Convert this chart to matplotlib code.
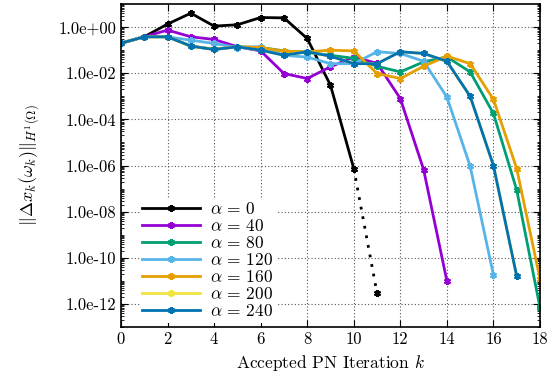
import numpy as np
import matplotlib.pyplot as plt
from matplotlib.ticker import FixedLocator, LogLocator, NullFormatter

plt.rcParams['mathtext.fontset'] = 'cm'
plt.rcParams['font.family'] = ['cmr10', 'DejaVu Serif']
plt.rcParams['axes.unicode_minus'] = False

# norm of the PN update per accepted iteration, one list per alpha
alphas = [0, 40, 80, 120, 160, 200, 240]
colors = ['black', '#9400d3', '#009e73', '#56b4e9', '#e69f00', '#f0e442', '#0072b2']

res_a0 = [0.2, 0.38, 1.35, 4.0, 1.1, 1.26, 2.6, 2.5, 0.32, 3e-3, 7.4e-7]
res_a0_tail = [7.4e-7, 2.9e-12]
res_a40 = [0.2, 0.38, 0.74, 0.38, 0.29, 0.14, 0.093, 0.0097, 0.0059, 0.019,
           0.05, 0.027, 8e-4, 6.7e-7, 1e-11]
res_a80 = [0.2, 0.38, 0.38, 0.15, 0.107, 0.14, 0.13, 0.093, 0.08, 0.06,
           0.044, 0.02, 0.0114, 0.031, 0.051, 0.0114, 1.8e-4, 8.7e-8, 7e-13]
res_a120 = [0.2, 0.38, 0.38, 0.27, 0.195, 0.13, 0.14, 0.06, 0.05, 0.026,
            0.026, 0.085, 0.072, 0.033, 9.3e-4, 9.3e-7, 1.8e-11]
res_a160 = [0.2, 0.38, 0.38, 0.15, 0.11, 0.14, 0.13, 0.09, 0.085, 0.1,
            0.093, 0.0097, 0.0059, 0.02, 0.055, 0.026, 7.4e-4, 7.4e-7, 1.2e-11]
res_a200 = [0.2, 0.38, 0.38, 0.15, 0.107, 0.14, 0.1, 0.06, 0.085, 0.055,
            0.026, 0.026, 0.085, 0.072, 0.033, 1e-3, 1e-6, 1.6e-11]
res_a240 = [0.2, 0.38, 0.38, 0.15, 0.107, 0.14, 0.1, 0.06, 0.085, 0.055,
            0.026, 0.026, 0.085, 0.072, 0.033, 1e-3, 1e-6, 1.6e-11]
series = [res_a0, res_a40, res_a80, res_a120, res_a160, res_a200, res_a240]

xticks = list(range(0, 19, 2))
yticks = [1e0, 1e-2, 1e-4, 1e-6, 1e-8, 1e-10, 1e-12]
ytick_labels = ['1.0e+00', '1.0e-02', '1.0e-04', '1.0e-06', '1.0e-08',
                '1.0e-10', '1.0e-12']

fig = plt.figure(figsize=(5.54, 3.85), dpi=100)
ax = fig.add_axes([0.2184, 0.1506, 0.7563, 0.839])

star = (6, 2, 0)
for a, c, vals in zip(alphas, colors, series):
    ax.plot(range(len(vals)), vals, color=c, lw=2.0, marker=star, ms=5,
            mew=1.5, label=r'$\alpha\,=\,%d$' % a)
ax.plot([10, 11], res_a0_tail, color='black', lw=2.0, ls=(0, (1, 2.5)),
        marker=star, ms=5, mew=1.5, markevery=[1])

ax.set_yscale('log')
ax.set_xlim(0, 18)
ax.set_ylim(1e-13, 1e1)
ax.xaxis.set_major_locator(FixedLocator(xticks))
ax.set_xticklabels([str(t) for t in xticks])
ax.yaxis.set_major_locator(FixedLocator(yticks))
ax.set_yticklabels(ytick_labels)
ax.yaxis.set_minor_locator(LogLocator(base=10, subs=np.arange(1, 10), numticks=100))
ax.yaxis.set_minor_formatter(NullFormatter())
ax.tick_params(which='both', direction='in', top=True, right=True,
               labelsize=12)
ax.tick_params(which='major', length=5, width=0.8)
ax.tick_params(which='minor', length=2.5, width=0.6)
for s in ax.spines.values():
    s.set_linewidth(1.2)
ax.grid(True, which='major', color='#555555', ls=(0, (1, 2)), lw=0.8)

ax.set_xlabel(r'Accepted PN Iteration $k$', fontsize=12.5)
ax.set_ylabel(r'$\|\Delta x_k(\omega_k)\|_{H^1(\Omega)}$', fontsize=13,
              labelpad=12)

leg = ax.legend(loc='lower left', bbox_to_anchor=(0.02, -0.02),
                prop={'family': 'DejaVu Serif', 'size': 12.5},
                frameon=True, facecolor='white', edgecolor='none',
                framealpha=1, handlelength=3.3, labelspacing=0.0,
                borderaxespad=0.6, borderpad=0.15, handletextpad=0.6)

fig.savefig('out.png', dpi=100)
